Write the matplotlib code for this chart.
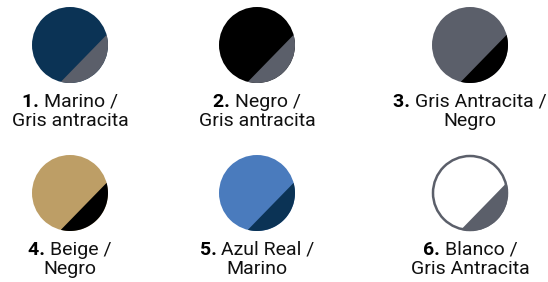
import numpy as np
import matplotlib
matplotlib.use('Agg')
import matplotlib.pyplot as plt
from matplotlib.patches import Circle, Polygon

# swatch data
numbers = ['1.', '2.', '3.', '4.', '5.', '6.']
line1 = ['Marino /', 'Negro /', 'Gris Antracita /', 'Beige /', 'Azul Real /', 'Blanco /']
line2 = ['Gris antracita', 'Gris antracita', 'Negro', 'Negro', 'Marino', 'Gris Antracita']
main_colors = ['#0b3355', '#000000', '#5b5f6a', '#bd9e66', '#4a7bbd', '#ffffff']
accent_colors = ['#5b5f6a', '#5b5f6a', '#000000', '#000000', '#0b3355', '#5b5f6a']

W, H = 548, 282
col_x = [70, 257, 470]
row_y = [45, 193]
radius = 38
text_dy = [62, 81.5]   # baseline offsets below circle centre
start_deg, end_deg = 256, 375.5   # accent segment arc (math angles)

plt.rcParams['font.family'] = ['Roboto', 'DejaVu Sans']

fig = plt.figure(figsize=(W / 100, H / 100), dpi=100)
ax = fig.add_axes([0, 0, 1, 1])
ax.set_xlim(0, W)
ax.set_ylim(H, 0)
ax.set_aspect('equal')
ax.axis('off')

fig.canvas.draw()
renderer = fig.canvas.get_renderer()
fs = 14

for i in range(6):
    cx = col_x[i % 3]
    cy = row_y[i // 3]
    ax.add_patch(Circle((cx, cy), radius, facecolor=main_colors[i], edgecolor='none', zorder=1))
    t = np.radians(np.linspace(start_deg, end_deg, 80))
    pts = np.column_stack([cx + radius * np.cos(t), cy - radius * np.sin(t)])
    ax.add_patch(Polygon(pts, closed=True, facecolor=accent_colors[i], edgecolor='none', zorder=2))
    if main_colors[i] == '#ffffff':
        ax.add_patch(Circle((cx, cy), radius - 1, facecolor='none', edgecolor='#5b5f6a', lw=1.8, zorder=3))

    # first line: bold number + regular text, centered together
    tb = ax.text(0, 0, numbers[i] + ' ', fontsize=fs, fontweight='bold', va='baseline', ha='left', color='black')
    tr = ax.text(0, 0, line1[i], fontsize=fs, va='baseline', ha='left', color='#111111')
    wb = tb.get_window_extent(renderer).width
    wr = tr.get_window_extent(renderer).width
    left = cx - (wb + wr) / 2
    tb.set_position((left, cy + text_dy[0]))
    tr.set_position((left + wb, cy + text_dy[0]))
    ax.text(cx, cy + text_dy[1], line2[i], fontsize=fs, va='baseline', ha='center', color='#111111')

fig.savefig('out.png', dpi=100)
